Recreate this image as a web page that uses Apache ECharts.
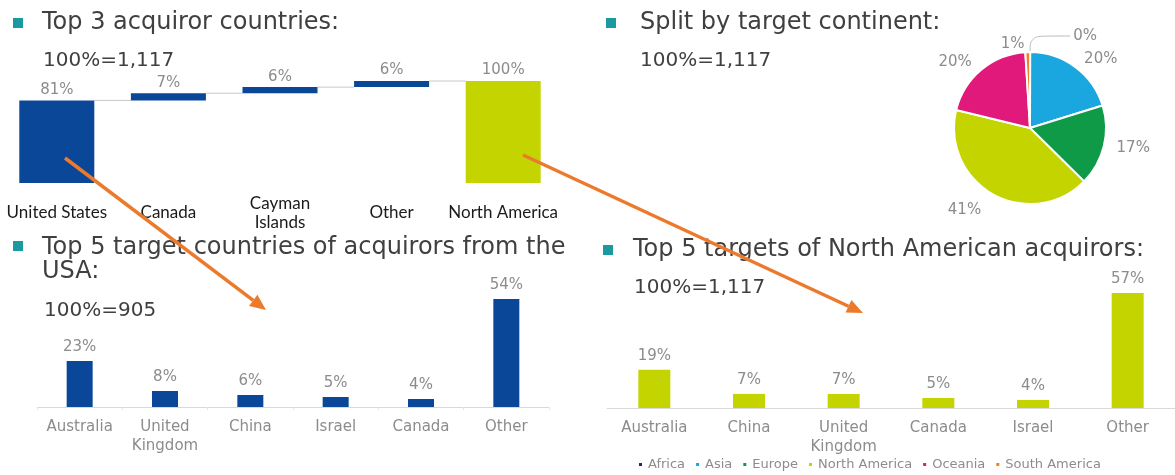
<!DOCTYPE html>
<html>
<head>
<meta charset="utf-8">
<script src="https://cdn.jsdelivr.net/npm/echarts@6/dist/echarts.min.js"></script>
<style>
html,body{margin:0;padding:0;background:#fff;}
#c{width:1175px;height:475px;}
</style>
</head>
<body>
<div id="c"></div>
<script>
// ---- data ----
const wfCategories = ['United States', 'Canada', 'Cayman\nIslands', 'Other', 'North America'];
const wfValues = [81, 7, 6, 6, 100];
const wfIsTotal = [false, false, false, false, true];

const continentNames = ['Africa', 'Asia', 'Europe', 'North America', 'Oceania', 'South America'];
const continentValues = [0, 20, 17, 41, 20, 1];

const usaCategories = ['Australia', 'United\nKingdom', 'China', 'Israel', 'Canada', 'Other'];
const usaValues = [23, 8, 6, 5, 4, 54];

const naCategories = ['Australia', 'China', 'United\nKingdom', 'Canada', 'Israel', 'Other'];
const naValues = [19, 7, 7, 5, 4, 57];

// ---- styles ----
const NAVY = '#0a4799';
const LIME = '#c3d400';
const GRAY = '#8c8c8c';
const DARK = '#404040';
const TEAL = '#1a9a9e';
const ORANGE = '#ec7a2c';
const continentColors = ['#1f2d5a', '#1aa7e0', '#0f9a48', '#c3d400', '#e0197a', '#f07e2a'];
const FONT = '"DejaVu Sans", Verdana, sans-serif';

// waterfall helpers derived from data
const wfBase = [];
let run = 0;
wfValues.forEach((v, i) => {
  if (wfIsTotal[i]) { wfBase.push(0); }
  else { wfBase.push(run); run += v; }
});
const wfTops = wfValues.map((v, i) => wfBase[i] + v);
const connectorData = wfTops.slice(0, -1).map((t, i) => [i, t]);

const chart = echarts.init(document.getElementById('c'), null, {renderer: 'canvas'});

function textEl(text, x, y, size, color) {
  return {type: 'text', z: 10, style: {text: text, x: x, y: y, font: size + 'px ' + FONT, fill: color, verticalAlign: 'middle'}};
}
function square(x, y) {
  return {type: 'rect', z: 10, shape: {x: x, y: y, width: 10, height: 10}, style: {fill: TEAL}};
}
function arrow(x1, y1, x2, y2) {
  const ang = Math.atan2(y2 - y1, x2 - x1);
  const L = 16, W = 7;
  const bx = x2 - L * Math.cos(ang), by = y2 - L * Math.sin(ang);
  const px = -Math.sin(ang) * W, py = Math.cos(ang) * W;
  return [
    {type: 'line', z: 20, shape: {x1: x1, y1: y1, x2: bx, y2: by}, style: {stroke: ORANGE, lineWidth: 3.5}},
    {type: 'polygon', z: 20, shape: {points: [[x2, y2], [bx + px, by + py], [bx - px, by - py]]}, style: {fill: ORANGE}}
  ];
}

const pieLabelLines = [
  {show: true, length: 16, length2: 40, smooth: 0.4, lineStyle: {color: '#bbb', width: 1}},
  {show: false, length: 10, length2: 0},
  {show: false, length: 10, length2: 0},
  {show: false, length: 18, length2: 0},
  {show: false, length: 10, length2: 0},
  {show: false, length: 8, length2: 0}
];

const option = {
  backgroundColor: '#fff',
  animation: false,
  textStyle: {fontFamily: FONT},
  grid: [
    {left: 1, width: 558, top: 81, height: 102},
    {left: 37, width: 512, top: 287, height: 120},
    {left: 607, width: 568, top: 287, height: 121}
  ],
  xAxis: [
    {type: 'category', gridIndex: 0, data: wfCategories,
      axisLine: {show: false}, axisTick: {show: false},
      axisLabel: {interval: 0, margin: 30, verticalAlign: 'middle', color: '#1a1a1a', fontSize: 17, lineHeight: 19, fontFamily: 'Lato, "Open Sans", sans-serif'}},
    {type: 'category', gridIndex: 1, data: usaCategories,
      axisLine: {lineStyle: {color: '#d9d9d9'}},
      axisTick: {show: true, length: 3, lineStyle: {color: '#e6e6e6'}},
      axisLabel: {interval: 0, margin: 11, color: GRAY, fontSize: 15, lineHeight: 19}},
    {type: 'category', gridIndex: 2, data: naCategories,
      axisLine: {lineStyle: {color: '#d9d9d9'}}, axisTick: {show: false},
      axisLabel: {interval: 0, margin: 11, color: GRAY, fontSize: 15, lineHeight: 19}}
  ],
  yAxis: [
    {type: 'value', gridIndex: 0, min: 0, max: 100, show: false},
    {type: 'value', gridIndex: 1, min: 0, max: 60, show: false},
    {type: 'value', gridIndex: 2, min: 0, max: 60, show: false}
  ],
  legend: {
    data: continentNames, left: 632, top: 453, icon: 'rect', itemWidth: 5, itemHeight: 5, itemGap: 9,
    textStyle: {color: GRAY, fontSize: 13, fontFamily: FONT}
  },
  series: [
    {type: 'bar', xAxisIndex: 0, yAxisIndex: 0, stack: 'wf', barWidth: 75, silent: true,
      itemStyle: {color: 'transparent'}, data: wfBase},
    {type: 'bar', xAxisIndex: 0, yAxisIndex: 0, stack: 'wf', barWidth: 75,
      data: wfValues.map((v, i) => ({value: v, itemStyle: {color: wfIsTotal[i] ? LIME : NAVY}})),
      label: {show: true, position: 'top', distance: 3, color: GRAY, fontSize: 15, formatter: '{c}%'}},
    {type: 'custom', xAxisIndex: 0, yAxisIndex: 0, z: 1,
      renderItem: function (params, api) {
        const i = api.value(0), v = api.value(1);
        const p0 = api.coord([i, v]);
        const p1 = api.coord([i + 1, v]);
        const hw = 75 / 2;
        return {type: 'line', shape: {x1: p0[0] + hw, y1: p0[1], x2: p1[0] - hw, y2: p1[1]},
          style: {stroke: '#c8c8c8', lineWidth: 1}};
      },
      data: connectorData},
    {type: 'bar', xAxisIndex: 1, yAxisIndex: 1, barWidth: 26, data: usaValues,
      itemStyle: {color: NAVY},
      label: {show: true, position: 'top', distance: 6, color: GRAY, fontSize: 15, formatter: '{c}%'}},
    {type: 'bar', xAxisIndex: 2, yAxisIndex: 2, barWidth: 32, data: naValues,
      itemStyle: {color: LIME},
      label: {show: true, position: 'top', distance: 6, color: GRAY, fontSize: 15, formatter: '{c}%'}},
    {type: 'pie', center: [1030, 128], radius: 76, startAngle: 89.9, clockwise: true,
      avoidLabelOverlap: false,
      itemStyle: {borderColor: '#fff', borderWidth: 2},
      label: {show: true, position: 'outside', formatter: '{c}%', color: GRAY, fontSize: 15, distanceToLabelLine: 3},
      labelLine: {show: false, length: 18, length2: 0},
      data: continentNames.map((n, i) => ({
        name: n, value: continentValues[i], itemStyle: {color: continentColors[i]},
        labelLine: pieLabelLines[i]
      }))}
  ],
  graphic: [
    square(13, 18), textEl('Top 3 acquiror countries:', 42, 23, 24, DARK),
    textEl('100%=1,117', 43, 61, 20, DARK),
    square(606, 18), textEl('Split by target continent:', 640, 23, 24, DARK),
    textEl('100%=1,117', 640, 61, 20, DARK),
    square(13, 241), textEl('Top 5 target countries of acquirors from the', 42, 248, 24, DARK),
    textEl('USA:', 42, 272, 24, DARK),
    textEl('100%=905', 44, 311, 20, DARK),
    square(603, 245), textEl('Top 5 targets of North American acquirors:', 633, 250, 24, DARK),
    textEl('100%=1,117', 634, 288, 20, DARK)
  ].concat(arrow(65, 158, 266, 310), arrow(523, 155, 863, 313))
};
chart.setOption(option);
</script>
</body>
</html>
